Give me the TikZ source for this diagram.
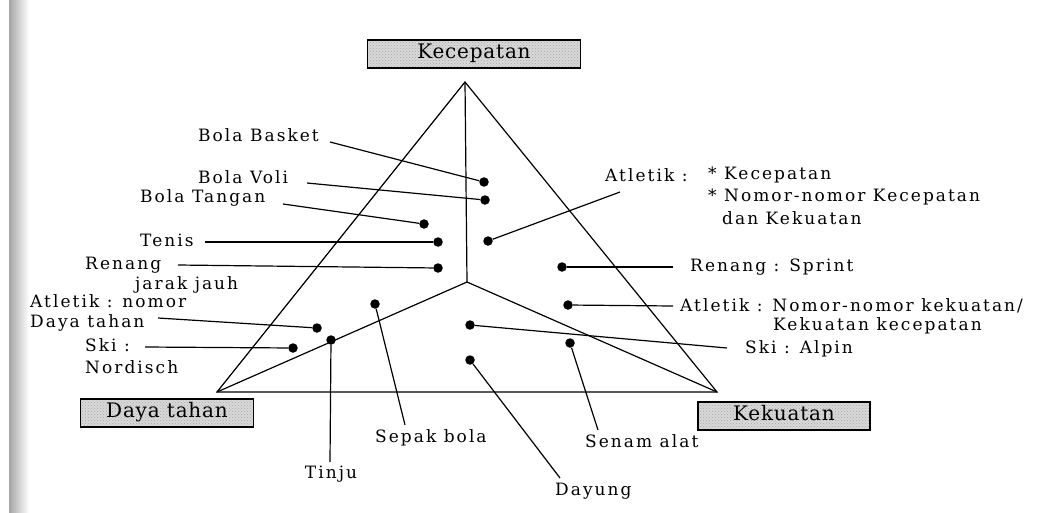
\documentclass[tikz,border=0pt]{standalone}
\usepackage{fontspec}
\usetikzlibrary{patterns}
\newfontfamily\serifspaced[LetterSpace=12]{DejaVu Serif}
\newfontfamily\serifbox[LetterSpace=4]{DejaVu Serif}
\newcommand{\lblfont}{\serifspaced\fontsize{17}{19}\selectfont}
\newcommand{\boxfont}{\serifbox\fontsize{20}{22}\selectfont}
\tikzset{
  lbl/.style={font=\lblfont, inner sep=0pt, anchor=west},
  corner/.style={draw=black, line width=1.3pt, font=\boxfont,
    preaction={fill=gray!30}, pattern=crosshatch dots, pattern color=gray!70,
    inner sep=0pt, minimum height=28pt},
  spot/.style={circle, fill=black, inner sep=0pt, minimum size=9.5pt},
  edge/.style={line width=1.2pt},
  lead/.style={line width=1.2pt}
}
\begin{document}
\begin{tikzpicture}[x=1pt,y=-1pt]
\useasboundingbox (0,0) rectangle (1058,512);
% scanner shadow along the left margin
\shade[left color=gray!70, right color=white] (9,0) rectangle (29,512);

% triangle and its three inner dividers
\coordinate (A) at (465,82);
\coordinate (L) at (217,392);
\coordinate (R) at (717,392);
\coordinate (C) at (467,282);
\draw[edge, line join=miter] (A) -- (L) -- (R) -- cycle;
\draw[edge] (A) -- (C) -- (L);
\draw[edge] (C) -- (R);

% corner labels
\node[corner, minimum width=213pt] (kec) at (474,54) {\strut Kecepatan};
\node[corner, minimum width=173pt] (daya) at (167,413) {\strut Daya tahan};
\node[corner, minimum width=172pt] (kek) at (784,416) {\strut Kekuatan};

% sport positions
\node[spot] (basket) at (484,182) {};
\node[spot] (voli) at (485,200) {};
\node[spot] (tangan) at (424,224) {};
\node[spot] (tenis) at (438,242) {};
\node[spot] (renjauh) at (438,268) {};
\node[spot] (atlkec) at (488,241) {};
\node[spot] (sprint) at (562,267) {};
\node[spot] (atlkek) at (568,305) {};
\node[spot] (alpin) at (470,325) {};
\node[spot] (senam) at (570,343) {};
\node[spot] (dayung) at (470,360) {};
\node[spot] (sepak) at (375,304) {};
\node[spot] (tinju) at (331,340) {};
\node[spot] (nordisch) at (293,348) {};
\node[spot] (atlday) at (317,328) {};

% texts
\node[lbl] (tbasket) at (198,135) {Bola Basket};
\node[lbl] (tvoli) at (198,177) {Bola Voli};
\node[lbl] (ttangan) at (140,198) {Bola Tangan};
\node[lbl] (ttenis) at (140,240) {Tenis};
\node[lbl] (trenang) at (85,265) {Renang};
\node[lbl] (trenang2) at (135,285) {jarak jauh};
\node[lbl] (tatl1) at (30,301) {Atletik : nomor};
\node[lbl] (tatl2) at (30,323) {Daya tahan};
\node[lbl] (tski1) at (85,345) {Ski :};
\node[lbl] (tski2) at (85,367) {Nordisch};
\node[lbl, anchor=center] (ttinju) at (331,474) {Tinju};
\node[lbl] (tsepak) at (375,438) {Sepak bola};
\node[lbl] (tdayung) at (555,491) {Dayung};
\node[lbl] (tsenam) at (585,441) {Senam alat};
\node[lbl] (talpin) at (745,349) {Ski : Alpin};
\node[lbl] (tkek1) at (680,306) {Atletik : Nomor-nomor kekuatan/};
\node[lbl] (tkek2) at (773,326) {Kekuatan kecepatan};
\node[lbl] (tsprint) at (690,267) {Renang : Sprint};
\node[lbl] (tkec0) at (605,175) {Atletik :};
\node[lbl] (tkec1) at (708,175) {* Kecepatan};
\node[lbl] (tkec2) at (708,197) {* Nomor-nomor Kecepatan};
\node[lbl] (tkec3) at (722,218) {dan Kekuatan};

% free ends of the leader lines beside the texts
\coordinate (ebasket) at (330,142);
\coordinate (evoli) at (307,183);
\coordinate (etangan) at (283,204);
\coordinate (etenis) at (205,242);
\coordinate (erenang) at (178,265);
\coordinate (eatlday) at (158,318);
\coordinate (enordisch) at (145,347);
\coordinate (etinju) at (330,462);
\coordinate (esepak) at (405,425);
\coordinate (edayung) at (560,478);
\coordinate (esenam) at (598,430);
\coordinate (ealpin) at (727,348);
\coordinate (eatlkek) at (673,306);
\coordinate (esprint) at (673,267);
\coordinate (eatlkec) at (620,192);

% leader lines
\draw[lead] (ebasket) -- (basket);
\draw[lead] (evoli) -- (voli);
\draw[lead] (etangan) -- (tangan);
\draw[lead] (etenis) -- (tenis);
\draw[lead] (erenang) -- (renjauh);
\draw[lead] (eatlday) -- (atlday);
\draw[lead] (enordisch) -- (nordisch);
\draw[lead] (etinju) -- (tinju);
\draw[lead] (esepak) -- (sepak);
\draw[lead] (edayung) -- (dayung);
\draw[lead] (esenam) -- (senam);
\draw[lead] (ealpin) -- (alpin);
\draw[lead] (eatlkek) -- (atlkek);
\draw[lead] (esprint) -- (sprint);
\draw[lead] (eatlkec) -- (atlkec);
\end{tikzpicture}
\end{document}
